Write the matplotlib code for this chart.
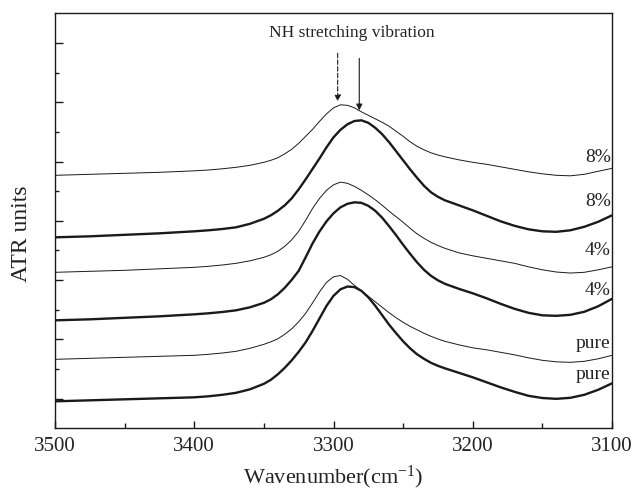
import numpy as np
import matplotlib
matplotlib.use("Agg")
import matplotlib.pyplot as plt
from matplotlib.ticker import FixedLocator, MultipleLocator

plt.rcParams['font.family'] = ['Liberation Serif', 'DejaVu Serif']
plt.rcParams['mathtext.fontset'] = 'custom'
plt.rcParams['mathtext.rm'] = 'Liberation Serif'
plt.rcParams['mathtext.it'] = 'Liberation Serif:italic'

# ---- data (ATR units, arbitrary offset scale) ----
wavenumber = [3500, 3475, 3450, 3425, 3400, 3390, 3380, 3370, 3360, 3350, 3345, 3340,
              3335, 3330, 3325, 3320, 3315, 3310, 3305, 3300, 3295, 3290, 3285, 3280,
              3275, 3270, 3265, 3260, 3255, 3250, 3245, 3240, 3235, 3230, 3225, 3220,
              3210, 3200, 3190, 3180, 3170, 3160, 3150, 3140, 3130, 3120, 3110, 3100]

thin_8 = [253, 254, 255, 256, 257.5, 258.3, 259.5, 261, 263, 266, 268, 270.5,
          274.5, 279, 285, 292, 299, 307, 314.5, 320.5, 323.5, 323, 320.5, 316.5,
          313, 309.5, 306, 302, 297, 292, 286.5, 282, 278.5, 275.5, 273.3, 271.5,
          268.5, 266, 264, 261.5, 259, 256.5, 254.5, 253, 252.5, 254, 257, 260]

thick_8 = [191, 192, 193.5, 195, 197, 198, 199.3, 201, 204.5, 209.5, 213, 217.5,
           223, 230, 239, 249, 259.5, 270, 281, 291, 298.5, 304, 307.3, 308,
           305.5, 300.5, 294, 286, 277, 268, 259, 250.5, 242.5, 236, 231.5, 228,
           223, 218, 212.5, 207, 202.5, 199, 197, 196.5, 198, 201.5, 206.5, 213]

thin_4 = [156, 157, 158, 159.5, 161, 162, 163.3, 165, 167.5, 171, 173.5, 177,
          182, 188.5, 197, 208, 220, 230, 238, 243.5, 246.2, 245, 242, 238,
          233.5, 228.5, 223, 217, 211.5, 206, 200, 194.5, 190, 186, 182.8, 180,
          175.5, 172.5, 170, 167.5, 165, 161.5, 158.5, 156.3, 155.3, 156, 158.5, 161.5]

thick_4 = [108, 109, 110.5, 112, 114, 115, 116.3, 118, 121, 125.5, 129, 134,
           140.5, 148.5, 157.5, 171, 185, 197, 207, 215, 221, 224.5, 226, 225.5,
           222.5, 217.5, 210.5, 202, 193, 183.5, 174.5, 166, 158.5, 152.5, 148, 144.5,
           139.5, 135, 130, 124.5, 119.5, 115.5, 113, 112.5, 113.5, 116.5, 122, 129.5]

thin_pure = [69, 70, 71, 72, 73, 74, 75.3, 77, 80, 84, 86.5, 89.5,
             94, 99.5, 106.5, 115, 125.5, 136.5, 146, 151.5, 152.8, 149, 143, 137.5,
             132, 126.5, 121, 115.5, 110.5, 106, 102, 98.5, 95, 92, 89.3, 87,
             83.5, 80.5, 78.5, 76, 73.5, 70.5, 68, 66.5, 66, 67, 69.5, 73]

thick_pure = [27, 28, 29, 30, 31, 32, 33.5, 35.5, 39, 44.5, 48.5, 54,
              60.5, 68, 76.5, 86, 97.5, 110, 122.5, 132.5, 139, 141.8, 141.2, 137.5,
              131, 122.5, 113, 103.5, 95, 87, 80, 74, 69.5, 65.5, 62.5, 60,
              55.5, 51, 46, 41, 36.5, 32.5, 30.3, 29.5, 30.5, 33.5, 38.5, 45]

curve_labels = ['8%', '8%', '4%', '4%', 'pure', 'pure']
label_y = [271, 227, 178, 138, 85, 54]

peak_dashed = 3297
peak_solid = 3281.5

# ---- figure ----
fig = plt.figure(figsize=(6.4, 4.95), dpi=100)
ax = fig.add_axes([0.0859, 0.1347, 0.8704, 0.8384])

col = '#1a1a1a'
thin_lw = 0.7
thick_lw = 1.7
kw = dict(color=col, solid_joinstyle='round', solid_capstyle='round')
ax.plot(wavenumber, thin_8, lw=thin_lw, **kw)
ax.plot(wavenumber, thick_8, lw=thick_lw, **kw)
ax.plot(wavenumber, thin_4, lw=thin_lw, **kw)
ax.plot(wavenumber, thick_4, lw=thick_lw, **kw)
ax.plot(wavenumber, thin_pure, lw=thin_lw, **kw)
ax.plot(wavenumber, thick_pure, lw=thick_lw, **kw)

ax.set_xlim(3500, 3100)
ax.set_ylim(0, 415)

# ticks
ax.xaxis.set_major_locator(MultipleLocator(100))
ax.xaxis.set_minor_locator(MultipleLocator(50))
step = 29.64
ax.yaxis.set_major_locator(FixedLocator([step * k for k in (1, 3, 5, 7, 9, 11, 13)]))
ax.yaxis.set_minor_locator(FixedLocator([step * k for k in (2, 4, 6, 8, 10, 12)]))
ax.tick_params(axis='both', which='both', direction='in', top=False, right=False,
               color=col, width=1.0)
ax.tick_params(axis='x', which='major', length=5, labelsize=15, pad=6, labelcolor='#222222')
ax.tick_params(axis='x', which='minor', length=3.5)
ax.tick_params(axis='y', which='major', length=6, labelleft=False)
ax.tick_params(axis='y', which='minor', length=3.2)
for s in ax.spines.values():
    s.set_color(col)
    s.set_linewidth(1.0)

ax.set_xlabel(r'Wavenumber(cm$^{\mathregular{-1}}$)', fontsize=16, color='#222222', labelpad=6)
ax.set_ylabel('ATR units', fontsize=17, color='#222222')
ax.yaxis.set_label_coords(-0.042, 0.47)

# curve labels
for lab, yy in zip(curve_labels, label_y):
    ax.text(3101, yy, lab, ha='right', va='center', fontsize=14, color='#222222')

# annotation
ax.text(3286.7, 395, 'NH stretching vibration', ha='center', va='center',
        fontsize=12.5, color='#222222')
ax.annotate('', xy=(peak_dashed, 327), xytext=(peak_dashed, 375),
            arrowprops=dict(arrowstyle='-|>', linestyle=(0, (4, 2)), color=col,
                            lw=0.8, mutation_scale=9, shrinkA=0, shrinkB=0))
ax.annotate('', xy=(peak_solid, 318), xytext=(peak_solid, 370),
            arrowprops=dict(arrowstyle='-|>', color=col, lw=0.8,
                            mutation_scale=9, shrinkA=0, shrinkB=0))

fig.savefig('out.png', dpi=100)
